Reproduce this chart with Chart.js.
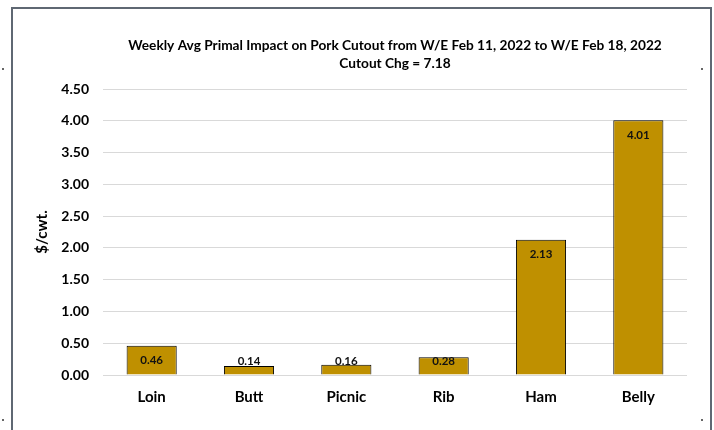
<!DOCTYPE html>
<html>
<head>
<meta charset="utf-8">
<script src="https://cdn.jsdelivr.net/npm/chart.js@4"></script>
<style>
  body { margin: 0; background: #fff; overflow: hidden; }
  #wrap { position: relative; width: 714px; height: 430px; }
  #frame { position: absolute; left: 11px; top: 7px; width: 697px; height: 440px; border: 2px solid #5f6873; pointer-events: none; }
  .dot { position: absolute; width: 2px; height: 2px; background: #666; }
  canvas { position: absolute; left: 0; top: 0; }
</style>
</head>
<body>
<div id="wrap">
  <canvas id="chart" width="714" height="430"></canvas>
  <div id="frame"></div>
  <div class="dot" style="left:2px;top:68px"></div>
  <div class="dot" style="left:2px;top:419px"></div>
  <div class="dot" style="left:701px;top:68px"></div>
  <div class="dot" style="left:701px;top:419px"></div>
</div>
<script>
const categories = ['Loin', 'Butt', 'Picnic', 'Rib', 'Ham', 'Belly'];
const impact = [0.46, 0.14, 0.16, 0.28, 2.13, 4.01];
const titleLines = [
  'Weekly Avg Primal Impact on Pork Cutout from W/E Feb 11, 2022 to W/E Feb 18, 2022',
  'Cutout Chg = 7.18'
];

const FONT = 'Lato, "Open Sans", sans-serif';

// Title centred over the plot area (Excel style), not over the whole canvas
const plotTitle = {
  id: 'plotTitle',
  afterDraw(chart) {
    const ctx = chart.ctx;
    const area = chart.chartArea;
    const cx = (area.left + area.right) / 2;
    ctx.save();
    ctx.font = 'bold 13.7px ' + FONT;
    ctx.fillStyle = '#000';
    ctx.textAlign = 'center';
    ctx.textBaseline = 'middle';
    ctx.fillText(titleLines[0], cx, 46);
    ctx.fillText(titleLines[1], cx, 64);
    ctx.restore();
  }
};

// Value labels just inside the top of each bar
const barLabels = {
  id: 'barLabels',
  afterDatasetsDraw(chart) {
    const ctx = chart.ctx;
    const meta = chart.getDatasetMeta(0);
    const base = chart.scales.y.getPixelForValue(0);
    ctx.save();
    ctx.font = 'bold 11.5px ' + FONT;
    ctx.fillStyle = '#111';
    ctx.textAlign = 'center';
    ctx.textBaseline = 'middle';
    meta.data.forEach((bar, i) => {
      const y = Math.min(bar.y + 15, base - 14);
      ctx.fillText(impact[i].toFixed(2), bar.x, y);
    });
    ctx.restore();
  }
};

new Chart(document.getElementById('chart'), {
  type: 'bar',
  data: {
    labels: categories,
    datasets: [{
      data: impact,
      backgroundColor: '#BF9000',
      borderColor: '#000',
      borderWidth: 1,
      categoryPercentage: 1,
      barPercentage: 0.515
    }]
  },
  options: {
    responsive: false,
    animation: false,
    layout: { padding: { left: 12, right: 27, top: 89, bottom: 0 } },
    plugins: {
      legend: { display: false },
      tooltip: { enabled: false },
      title: { display: false }
    },
    scales: {
      x: {
        grid: { display: false },
        border: { display: false },
        ticks: { color: '#000', font: { family: FONT, size: 15, weight: 'bold' }, padding: 5 },
        afterFit(scale) { scale.height = 55; }
      },
      y: {
        min: 0,
        max: 4.5,
        grid: { color: '#d9d9d9', drawTicks: false },
        border: { display: false },
        ticks: {
          stepSize: 0.5,
          padding: 14,
          color: '#000',
          font: { family: FONT, size: 14, weight: 'bold' },
          callback: v => v.toFixed(2)
        },
        title: {
          display: true,
          text: '$/cwt.',
          color: '#000',
          font: { family: FONT, size: 15, weight: 'bold' },
          padding: { top: 21, bottom: 0 }
        },
        afterFit(scale) { scale.width = 91; }
      }
    }
  },
  plugins: [barLabels, plotTitle]
});
</script>
</body>
</html>
